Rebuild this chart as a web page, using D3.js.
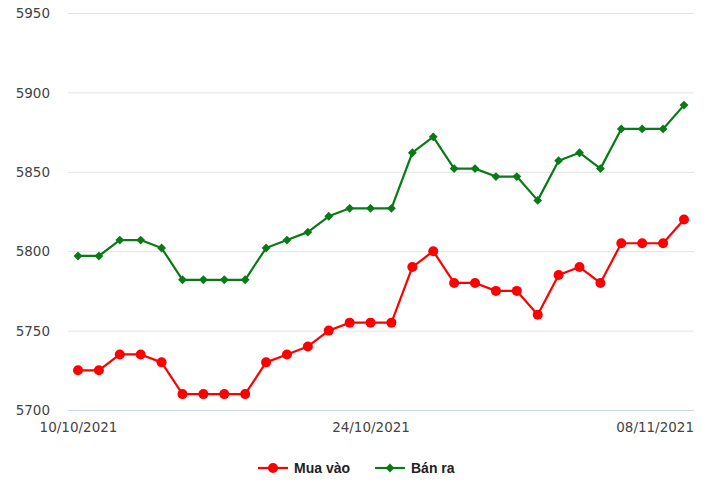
<!DOCTYPE html>
<html>
<head>
<meta charset="utf-8">
<script src="https://cdn.jsdelivr.net/npm/d3@7"></script>
<style>
html,body{margin:0;padding:0;background:#fff;}
svg{display:block;}
</style>
</head>
<body>
<svg id="chart" width="720" height="493"></svg>
<script>
const muaVao = [5725,5725,5735,5735,5730,5710,5710,5710,5710,5730,5735,5740,5750,5755,5755,5755,5790,5800,5780,5780,5775,5775,5760,5785,5790,5780,5805,5805,5805,5820];
const banRa = [5797,5797,5807,5807,5802,5782,5782,5782,5782,5802,5807,5812,5822,5827,5827,5827,5862,5872,5852,5852,5847,5847,5832,5857,5862,5852,5877,5877,5877,5892];
const xTickIndex = [0,14,28];
const xTickLabels = ["10/10/2021","24/10/2021","08/11/2021"];
const yTicks = [5700,5750,5800,5850,5900,5950];
const seriesNames = ["Mua vào","Bán ra"];
const seriesColors = ["#ff0000","#0a7a17"];

const svg = d3.select("#chart");
const plotLeft = 68, plotRight = 694, plotTop = 13, plotBottom = 410;

const x = d3.scaleLinear().domain([0, muaVao.length - 1]).range([78, 684]);
const y = d3.scaleLinear().domain([5700, 5950]).range([plotBottom, plotTop]);

const axisFont = "DejaVu Sans, Verdana, sans-serif";

// Y axis + gridlines
const yAxis = d3.axisLeft(y).tickValues(yTicks).tickSize(0).tickPadding(0).tickFormat(d3.format("d"));
const gY = svg.append("g").attr("transform", `translate(${plotLeft},0)`).call(yAxis);
gY.select(".domain").remove();
gY.selectAll(".tick text")
  .attr("x", -18)
  .attr("dy", "0.35em")
  .style("font-family", axisFont)
  .style("font-size", "13.5px")
  .attr("fill", "#444");
gY.selectAll(".tick").append("line")
  .attr("x1", 0).attr("x2", plotRight - plotLeft)
  .attr("stroke", d => d === 5700 ? "#ccd6eb" : "#e3e3e3")
  .attr("stroke-width", 1);

// X axis labels
const xAxis = d3.axisBottom(x).tickValues(xTickIndex).tickSize(0).tickPadding(0)
  .tickFormat((d, i) => xTickLabels[i]);
const gX = svg.append("g").attr("transform", `translate(0,${plotBottom})`).call(xAxis);
gX.select(".domain").remove();
gX.selectAll(".tick text")
  .attr("y", 12)
  .attr("dy", "0.71em")
  .style("font-family", axisFont)
  .style("font-size", "13.5px")
  .attr("fill", "#444")
  .each(function() {
    const bb = this.getBBox();
    const t = d3.select(this.parentNode).attr("transform");
    const tx = +t.match(/translate\(([-\d.]+)/)[1];
    const right = tx + bb.x + bb.width;
    if (right > plotRight) d3.select(this).attr("x", plotRight - right);
  });

// Lines
const line = d3.line().x((d, i) => x(i)).y(d => y(d));
[muaVao, banRa].forEach((vals, s) => {
  svg.append("path").datum(vals)
    .attr("d", line)
    .attr("fill", "none")
    .attr("stroke", seriesColors[s])
    .attr("stroke-width", 2.2)
    .attr("stroke-linejoin", "round");
});

// Markers
svg.append("g").selectAll("circle").data(muaVao).join("circle")
  .attr("cx", (d, i) => x(i)).attr("cy", d => y(d)).attr("r", 5)
  .attr("fill", seriesColors[0]);
const diamond = d3.symbol().type(d3.symbolDiamond2).size(50);
svg.append("g").selectAll("path").data(banRa).join("path")
  .attr("transform", (d, i) => `translate(${x(i)},${y(d)})`)
  .attr("d", diamond)
  .attr("fill", seriesColors[1]);

// Legend
const legendY = 468;
const legendItems = [
  {name: seriesNames[0], color: seriesColors[0], x0: 258, type: "circle"},
  {name: seriesNames[1], color: seriesColors[1], x0: 375, type: "diamond"}
];
legendItems.forEach(it => {
  const g = svg.append("g").attr("transform", `translate(${it.x0},${legendY})`);
  g.append("line").attr("x1", 0).attr("x2", 30).attr("y1", 0).attr("y2", 0)
    .attr("stroke", it.color).attr("stroke-width", 2.2);
  if (it.type === "circle") {
    g.append("circle").attr("cx", 15).attr("cy", 0).attr("r", 5).attr("fill", it.color);
  } else {
    g.append("path").attr("transform", "translate(15,0)").attr("d", diamond).attr("fill", it.color);
  }
  g.append("text").attr("x", 36).attr("y", 0).attr("dy", "0.35em")
    .style("font-family", "Liberation Sans, Arial, sans-serif")
    .style("font-size", "14px").style("font-weight", "bold")
    .attr("fill", "#222").text(it.name);
});
</script>
</body>
</html>
